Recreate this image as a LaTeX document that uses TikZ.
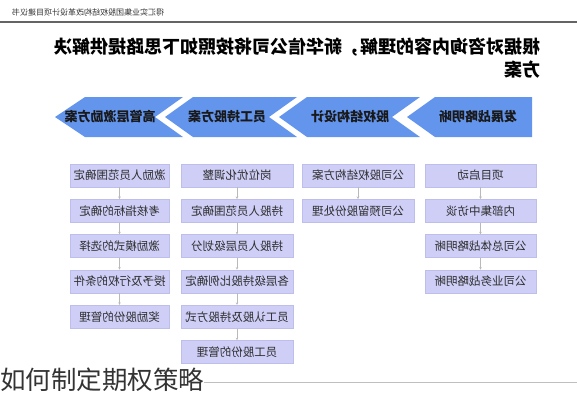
\documentclass[tikz,border=0pt]{standalone}
\usepackage{fontspec}
\setmainfont{Noto Sans CJK SC}
\usetikzlibrary{arrows.meta}
\definecolor{chevblue}{RGB}{100,149,237}
\definecolor{boxfill}{RGB}{206,206,247}
\definecolor{boxline}{RGB}{190,190,236}
\definecolor{hdrline}{RGB}{100,100,100}
\begin{document}
\begin{tikzpicture}[x=1pt,y=-1pt,
  mir/.style={xscale=-1},
  chev/.style={fill=chevblue},
  chevtext/.style={mir, inner sep=0pt, font=\fontsize{13}{13}\selectfont\bfseries, text=black!90},
  stepbox/.style={mir, fill=boxfill, draw=boxline, line width=0.6pt, minimum height=23pt, inner sep=0pt, font=\fontsize{11.5}{11.5}\selectfont, text=black!82},
  conn/.style={draw=gray!55, line width=0.5pt, -{Stealth[length=2.5pt,width=2.5pt]}}
]
\useasboundingbox (0,0) rectangle (577,400);
% header
\node[mir, inner sep=0pt, font=\fontsize{8}{8}\selectfont, text=black!80] (hdr) at (88,12) {得汇实业集团股权结构改革设计项目建议书};
\draw[hdrline, line width=1.2pt] (0,22) -- (577,22);
% title
\node[mir, inner sep=0pt, align=left, font=\fontsize{18}{23}\selectfont\bfseries] (title) at (297.5,58.5) {根据对咨询内容的理解，新华信公司将按照如下思路提供解决\\方案};
% chevrons
\fill[chev] (532,97) -- (435,97) -- (407,117) -- (435,137) -- (532,137) -- cycle;
\fill[chev] (420,97) -- (307,97) -- (279,117) -- (307,137) -- (420,137) -- (392,117) -- cycle;
\fill[chev] (297,97) -- (193,97) -- (165,117) -- (193,137) -- (297,137) -- (269,117) -- cycle;
\fill[chev] (183,97) -- (85,97) -- (55,117) -- (85,137) -- (183,137) -- (155,117) -- cycle;
\node[chevtext] (c1) at (478,117) {发展战略明晰};
\node[chevtext] (c2) at (350,117) {股权结构设计};
\node[chevtext] (c3) at (227,117) {员工持股方案};
\node[chevtext] (c4) at (110,117) {高管层激励方案};
% column 1
\begin{scope}[every node/.append style={stepbox, minimum width=111pt}]
\node (a1) at (480.5,175.5) {项目启动};
\node (a2) at (480.5,210.8) {内部集中访谈};
\node (a3) at (480.5,246.1) {公司总体战略明晰};
\node (a4) at (480.5,281.4) {公司业务战略明晰};
\end{scope}
% column 2
\begin{scope}[every node/.append style={stepbox, minimum width=112pt}]
\node (b1) at (358,175.5) {公司股权结构方案};
\node (b2) at (358,210.8) {公司预留股份处理};
\end{scope}
% column 3
\begin{scope}[every node/.append style={stepbox, minimum width=112pt}]
\node (d1) at (237,175.5) {岗位优化调整};
\node (d2) at (237,210.8) {持股人员范围确定};
\node (d3) at (237,246.1) {持股人员层级划分};
\node (d4) at (237,281.4) {各层级持股比例确定};
\node (d5) at (237,316.7) {员工认股及持股方式};
\node (d6) at (237,352.0) {员工股份的管理};
\end{scope}
% column 4
\begin{scope}[every node/.append style={stepbox, minimum width=99pt}]
\node (e1) at (119.5,175.5) {激励人员范围确定};
\node (e2) at (119.5,210.8) {考核指标的确定};
\node (e3) at (119.5,246.1) {激励模式的选择};
\node (e4) at (119.5,281.4) {授予及行权的条件};
\node (e5) at (119.5,316.7) {奖励股份的管理};
\end{scope}
% connectors
\foreach \u/\v in {a1/a2,a2/a3,a3/a4,b1/b2,d1/d2,d2/d3,d3/d4,d4/d5,d5/d6,e1/e2,e2/e3,e3/e4,e4/e5}
  \draw[conn] (\u.south) -- (\v.north);
% bottom caption
\node[anchor=west, inner sep=0pt, font=\fontsize{25.5}{25.5}\selectfont, text=black!80] (cap) at (0,380) {如何制定期权策略};
\coordinate (lineend) at (577,382);
\draw[gray!50, line width=0.6pt] (cap.east |- lineend) -- (lineend);
\end{tikzpicture}
\end{document}
